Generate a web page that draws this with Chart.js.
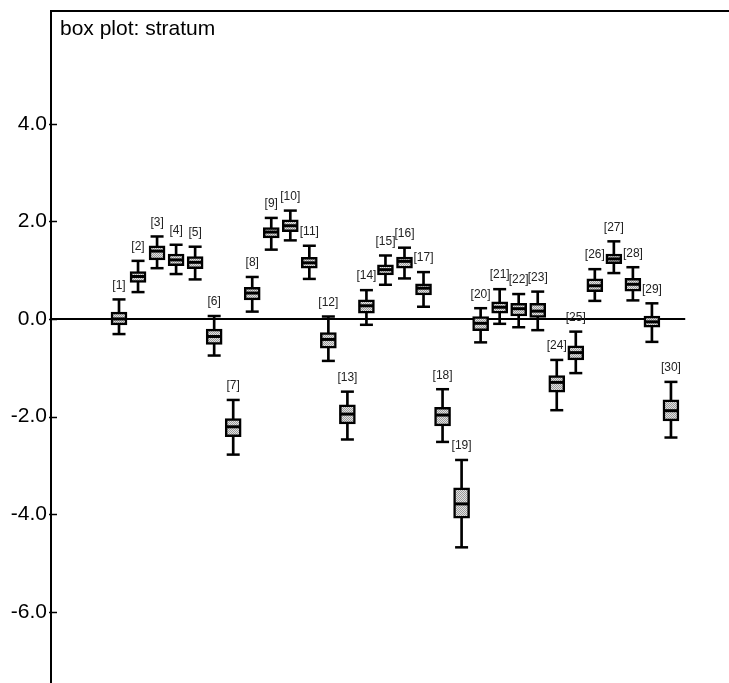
<!DOCTYPE html>
<html>
<head>
<meta charset="utf-8">
<script src="https://cdn.jsdelivr.net/npm/chart.js@4.4.1/dist/chart.umd.min.js"></script>
<style>
    html, body { margin: 0; padding: 0; background: #fff; overflow: hidden; }
    canvas { display: block; }
</style>
</head>
<body>
<canvas id="boxChart" width="729" height="683"></canvas>
<script>
// Box plot data: one entry per stratum
const strata = [1, 2, 3, 4, 5, 6, 7, 8, 9, 10, 11, 12, 13, 14, 15,
                16, 17, 18, 19, 20, 21, 22, 23, 24, 25, 26, 27, 28, 29, 30];
const whiskerHigh = [0.40, 1.19, 1.69, 1.52, 1.48, 0.06, -1.66, 0.86, 2.07, 2.22,
                     1.50, 0.05, -1.49, 0.59, 1.30, 1.46, 0.96, -1.44, -2.89, 0.22,
                     0.61, 0.51, 0.56, -0.84, -0.26, 1.02, 1.59, 1.06, 0.32, -1.29];
const upperQ = [0.14, 0.97, 1.50, 1.33, 1.28, -0.21, -2.04, 0.65, 1.87, 2.03,
                1.26, -0.28, -1.76, 0.39, 1.11, 1.27, 0.72, -1.81, -3.46, 0.05,
                0.35, 0.32, 0.32, -1.16, -0.55, 0.82, 1.33, 0.83, 0.06, -1.66];
const medians = [0.00, 0.87, 1.39, 1.21, 1.16, -0.36, -2.21, 0.53, 1.78, 1.91,
                 1.15, -0.42, -1.95, 0.27, 1.01, 1.18, 0.63, -1.97, -3.79, -0.09,
                 0.24, 0.21, 0.16, -1.30, -0.69, 0.68, 1.23, 0.71, -0.06, -1.88];
const lowerQ = [-0.12, 0.75, 1.21, 1.09, 1.03, -0.52, -2.41, 0.39, 1.66, 1.79,
                1.04, -0.60, -2.15, 0.12, 0.90, 1.04, 0.49, -2.19, -4.08, -0.24,
                0.12, 0.06, 0.03, -1.50, -0.84, 0.56, 1.13, 0.57, -0.17, -2.09];
const whiskerLow = [-0.31, 0.55, 1.04, 0.92, 0.81, -0.75, -2.78, 0.15, 1.42, 1.61,
                    0.82, -0.86, -2.47, -0.12, 0.70, 0.83, 0.25, -2.52, -4.68, -0.48,
                    -0.10, -0.17, -0.23, -1.87, -1.11, 0.37, 0.94, 0.38, -0.47, -2.43];
const yTicks = [-6, -4, -2, 0, 2, 4];
const chartTitle = 'box plot: stratum';

// stippled grey fill like the scanned original
function makeStipple() {
    const c = document.createElement('canvas');
    c.width = 2; c.height = 2;
    const g = c.getContext('2d');
    g.fillStyle = '#e2e2e2'; g.fillRect(0, 0, 2, 2);
    g.fillStyle = '#999999'; g.fillRect(0, 0, 1, 1); g.fillRect(1, 1, 1, 1);
    return g.createPattern(c, 'repeat');
}

const ctx = document.getElementById('boxChart').getContext('2d');
const stipple = makeStipple();

const xMin = -2.573, xMax = 33.05;

// title, stratum labels and inward tick marks
const annotations = {
    id: 'annotations',
    afterDatasetsDraw(chart) {
        const c = chart.ctx;
        const xs = chart.scales.x, ys = chart.scales.y;
        const area = chart.chartArea;
        c.save();
        c.fillStyle = '#000';
        c.font = '21px "Liberation Sans", Arial, sans-serif';
        c.textBaseline = 'alphabetic';
        c.textAlign = 'left';
        c.fillText(chartTitle, area.left + 9, area.top + 24);

        c.font = '12px "Liberation Sans", Arial, sans-serif';
        c.fillStyle = '#222';
        c.textAlign = 'center';
        c.textBaseline = 'bottom';
        strata.forEach((s, i) => {
            c.fillText('[' + s + ']', xs.getPixelForValue(s), ys.getPixelForValue(whiskerHigh[i]) - 8);
        });

        c.strokeStyle = '#000';
        c.lineWidth = 1.5;
        yTicks.forEach(v => {
            const y = Math.round(ys.getPixelForValue(v)) + 0.5;
            c.beginPath();
            c.moveTo(area.left - 2, y);
            c.lineTo(area.left + 6, y);
            c.stroke();
        });
        c.restore();
    }
};

new Chart(ctx, {
    type: 'bar',
    data: {
        datasets: [
            {
                type: 'line',
                data: [{ x: xMin, y: 0 }, { x: strata[strata.length - 1] + 0.75, y: 0 }],
                borderColor: '#000',
                borderWidth: 2,
                pointRadius: 0,
                order: 6
            },
            {
                // whisker stems
                data: strata.map((s, i) => ({ x: s, y: [whiskerLow[i], whiskerHigh[i]] })),
                backgroundColor: '#000',
                barThickness: 2,
                grouped: false,
                order: 4
            },
            {
                // whisker caps
                type: 'line',
                showLine: false,
                data: strata.map((s, i) => ({ x: s, y: whiskerHigh[i] }))
                    .concat(strata.map((s, i) => ({ x: s, y: whiskerLow[i] }))),
                pointStyle: 'line',
                pointRadius: 6.5,
                pointBorderWidth: 2.5,
                pointBorderColor: '#000',
                order: 3
            },
            {
                // boxes
                data: strata.map((s, i) => ({ x: s, y: [lowerQ[i], upperQ[i]] })),
                backgroundColor: stipple,
                borderColor: '#000',
                borderWidth: 2.5,
                borderSkipped: false,
                barThickness: 16,
                grouped: false,
                order: 2
            },
            {
                // medians
                type: 'line',
                showLine: false,
                data: strata.map((s, i) => ({ x: s, y: medians[i] })),
                pointStyle: 'line',
                pointRadius: 7.5,
                pointBorderWidth: 3,
                pointBorderColor: '#000',
                order: 1
            }
        ]
    },
    options: {
        responsive: false,
        animation: false,
        layout: { padding: 0, autoPadding: false },
        plugins: {
            legend: { display: false },
            tooltip: { enabled: false }
        },
        scales: {
            x: {
                type: 'linear',
                position: 'top',
                min: xMin,
                max: xMax,
                offset: false,
                ticks: { display: false },
                grid: { display: false },
                border: { display: true, color: '#000', width: 2 },
                afterFit: scale => {
                    scale.height = 11;
                    scale.paddingLeft = 0;
                    scale.paddingRight = 0;
                }
            },
            y: {
                type: 'linear',
                min: -7.46,
                max: 6.31,
                afterBuildTicks: scale => { scale.ticks = yTicks.map(v => ({ value: v })); },
                ticks: {
                    color: '#000',
                    padding: 4,
                    font: { family: '"Liberation Sans", Arial, sans-serif', size: 21 },
                    callback: v => v.toFixed(1)
                },
                grid: { display: false, drawTicks: false },
                border: { display: true, color: '#000', width: 2 },
                afterFit: scale => {
                    scale.width = 51;
                    scale.paddingTop = 0;
                    scale.paddingBottom = 0;
                }
            }
        }
    },
    plugins: [annotations]
});
</script>
</body>
</html>
